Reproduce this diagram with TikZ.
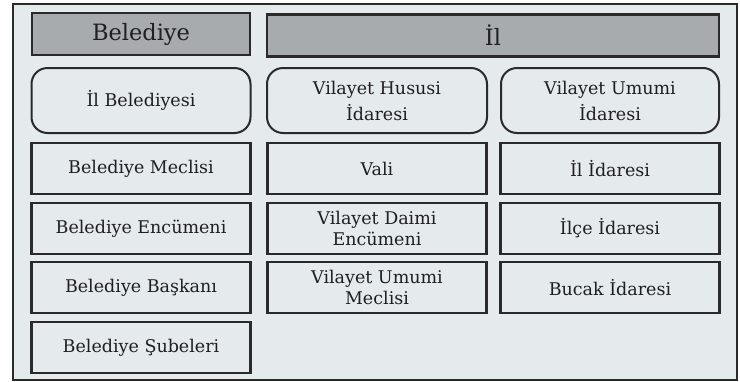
\documentclass[tikz,border=0pt]{standalone}
\usepackage{fontspec}
\setmainfont{DejaVu Serif}
\definecolor{bgc}{HTML}{E5EAED}
\definecolor{hdc}{HTML}{A7ABAE}
\definecolor{lnc}{HTML}{2A2A2A}
\begin{document}
\begin{tikzpicture}[x=1pt,y=-1pt,
  frame/.style={draw=lnc,line width=2.5pt,fill=bgc},
  head/.style={draw=lnc,line width=2.2pt,fill=hdc,minimum height=42pt,inner sep=0pt,
    font=\fontsize{22.5}{26}\selectfont,text=black!88},
  rbox/.style={draw=lnc,line width=2pt,fill=bgc,rounded corners=16pt,minimum height=65pt,
    minimum width=219pt,inner sep=0pt,align=center,font=\fontsize{17.5}{26}\selectfont,text=black!88},
  sbox/.style={draw=lnc,line width=2.2pt,fill=bgc,minimum height=51pt,
    minimum width=219pt,inner sep=0pt,align=center,font=\fontsize{17.5}{21}\selectfont,text=black!88}]
\useasboundingbox (0,0) rectangle (740,381);
\draw[frame] (13,4) rectangle (737,380);
\node[head,minimum width=218pt] (bel) at (141,34) {Belediye};
\node[head,minimum width=452pt] (il) at (493,35.5) {İl};
\node[rbox] (ilb) at (141,100.5) {İl Belediyesi};
\node[rbox,minimum width=220pt] (vhi) at (377,100.5) {Vilayet Hususi\\İdaresi};
\node[rbox,minimum width=218pt] (vui) at (610,100.5) {Vilayet Umumi\\İdaresi};
\node[sbox] (bm) at (141,168.5) {Belediye Meclisi};
\node[sbox] (be) at (141,228.5) {Belediye Encümeni};
\node[sbox] (bb) at (141,287.5) {Belediye Başkanı};
\node[sbox] (bs) at (141,347.5) {Belediye Şubeleri};
\node[sbox] (vali) at (377,168.5) {Vali};
\node[sbox] (vde) at (377,228.5) {Vilayet Daimi\\Encümeni};
\node[sbox] (vum) at (377,287.5) {Vilayet Umumi\\Meclisi};
\node[sbox] (ili) at (610,168.5) {İl İdaresi};
\node[sbox] (ilc) at (610,228.5) {İlçe İdaresi};
\node[sbox] (bui) at (610,287.5) {Bucak İdaresi};
\end{tikzpicture}
\end{document}
